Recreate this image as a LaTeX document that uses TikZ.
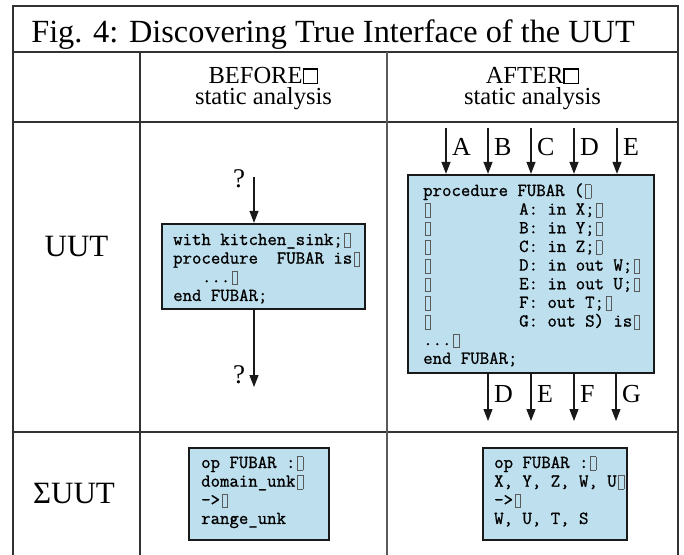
\documentclass[tikz,border=0pt]{standalone}
\usepackage{fontspec}
\setmainfont{Liberation Serif}
\setmonofont{Latin Modern Mono}[FakeBold=1.0]
\usetikzlibrary{arrows.meta}
\definecolor{codeblue}{RGB}{190,223,237}
\definecolor{framegray}{RGB}{50,50,50}
\definecolor{markgray}{RGB}{90,90,90}
\newlength\codecw \setlength\codecw{9.6pt}
\newcommand\tabmark{\makebox[\codecw][l]{\hspace{1.5pt}{\color{markgray}\fboxsep=0pt\fboxrule=0.6pt\fbox{\rule[-2pt]{0pt}{13pt}\hspace{5pt}}}}}
\newcommand\headmark{{\fboxsep=0pt\fboxrule=1.2pt\fbox{\rule{0pt}{13.5pt}\hspace{13.5pt}}}}
\newcommand\codetext[1]{\parbox[t]{300pt}{\raggedright\ttfamily\fontsize{18.3}{18.65}\selectfont #1}}
\newcommand\headtext[1]{\parbox[t]{260pt}{\centering\fontsize{24.5}{21}\selectfont #1}}
\begin{document}
\begin{tikzpicture}[x=1pt,y=-1pt,
  frame/.style={draw=framegray,line width=2.2pt},
  grid/.style={draw=framegray,line width=1.3pt},
  codebox/.style={draw=black!90,line width=2.3pt,fill=codeblue,inner sep=0pt},
  codetxt/.style={anchor=base west,inner sep=0pt},
  arr/.style={draw=black!90,line width=1.2pt,-{Triangle[length=12pt,width=9pt]}},
  lbl/.style={anchor=base west,inner sep=0pt,font=\fontsize{26}{30}\selectfont},
  qmark/.style={anchor=base,inner sep=0pt,font=\fontsize{27}{30}\selectfont},
  rowlbl/.style={inner sep=0pt,font=\fontsize{31}{36}\selectfont}]
\useasboundingbox (0,0) rectangle (684,554);
% table
\draw[frame] (13,560) -- (13,6) -- (678,6) -- (678,560);
\draw[grid,line width=1.8pt] (13,52) -- (678,52);
\draw[grid] (13,122) -- (678,122);
\draw[grid] (13,432) -- (678,432);
\draw[grid] (140,52) -- (140,560);
\draw[grid,draw=markgray,line width=1.8pt] (387,52) -- (387,560);
% title and headers
\node[anchor=base,inner sep=0pt,font=\fontsize{32.3}{36}\selectfont] (title) at (333,42) {Fig. 4: Discovering True Interface of the UUT};
\node[anchor=base,inner sep=0pt] (hbefore) at (263.5,83) {\headtext{BEFORE\headmark\\static analysis}};
\node[anchor=base,inner sep=0pt] (hafter) at (532.5,83) {\headtext{AFTER\headmark\\static analysis}};
\node[rowlbl] (uut) at (76.5,246) {UUT};
\node[rowlbl] (suut) at (74,493) {ΣUUT};
% before box
\node[codebox,minimum width=203pt,minimum height=85pt] (before) at (263.5,266.5) {};
\node[codetxt] (beforetxt) at (173,245) {\codetext{with kitchen\_sink;\tabmark\\procedure\ \ FUBAR is\tabmark\\\hspace*{3\codecw}...\tabmark\\end FUBAR;}};
\coordinate (qin) at (254,177);
\coordinate (qout) at (254,387);
\draw[arr] (qin) -- (qin |- before.north);
\draw[arr] (qout |- before.south) -- (qout);
\node[qmark] (q1) at (239,187) {?};
\node[qmark] (q2) at (239,383) {?};
% after box
\node[codebox,minimum width=246pt,minimum height=198pt] (after) at (531,274) {};
\node[codetxt] (aftertxt) at (423,196) {\codetext{procedure FUBAR (\tabmark\\
\makebox[10\codecw][l]{\tabmark}A: in X;\tabmark\\
\makebox[10\codecw][l]{\tabmark}B: in Y;\tabmark\\
\makebox[10\codecw][l]{\tabmark}C: in Z;\tabmark\\
\makebox[10\codecw][l]{\tabmark}D: in out W;\tabmark\\
\makebox[10\codecw][l]{\tabmark}E: in out U;\tabmark\\
\makebox[10\codecw][l]{\tabmark}F: out T;\tabmark\\
\makebox[10\codecw][l]{\tabmark}G: out S) is\tabmark\\
...\tabmark\\
end FUBAR;}};
\foreach \x/\l in {446/A,488/B,531/C,574/D,617/E}{
  \coordinate (in\l) at (\x,128);
  \draw[arr] (in\l) -- (in\l |- after.north);
  \node[lbl] (lin\l) at (\x+6,155) {\l};
}
\foreach \x/\l in {488/D,531/E,574/F,616/G}{
  \coordinate (out\l) at (\x,421);
  \draw[arr] (out\l |- after.south) -- (out\l);
  \node[lbl] (lout\l) at (\x+6,402) {\l};
}
% signature boxes
\node[codebox,minimum width=140pt,minimum height=92pt] (sbefore) at (259,494) {};
\node[codetxt] (sbeforetxt) at (201,468) {\codetext{op FUBAR :\tabmark\\domain\_unk\tabmark\\->\tabmark\\range\_unk}};
\node[codebox,minimum width=144pt,minimum height=92pt] (safter) at (555,494) {};
\node[codetxt] (saftertxt) at (494,468) {\codetext{op FUBAR :\tabmark\\X, Y, Z, W, U\tabmark\\->\tabmark\\W, U, T, S}};
\end{tikzpicture}
\end{document}
